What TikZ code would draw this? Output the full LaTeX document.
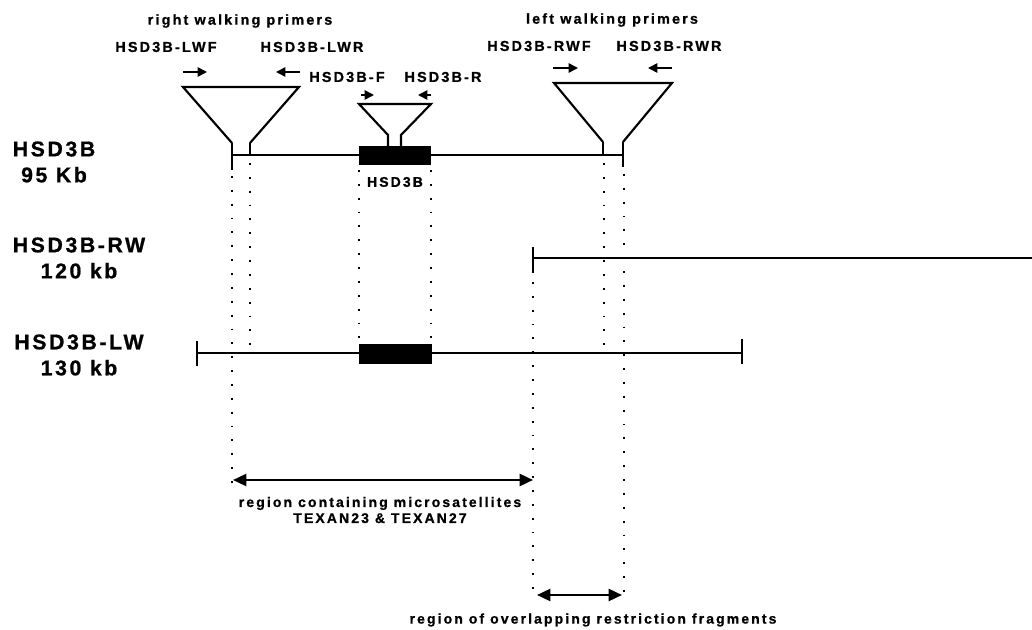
\documentclass[tikz,border=0pt]{standalone}
\usepackage{fontspec}
\setmainfont{Liberation Sans}
\newfontfamily\labfont{Liberation Sans}[LetterSpace=15,FakeBold=0.8]
\newfontfamily\bigfont{Liberation Sans}[LetterSpace=12,FakeBold=0.8]
\usetikzlibrary{arrows.meta}
\begin{document}
\begin{tikzpicture}[x=0.75pt,y=-0.75pt,
  lbl/.style={inner sep=0pt,font=\labfont\bfseries\fontsize{10.8pt}{12pt}\selectfont},
  big/.style={inner sep=0pt,align=center,font=\bigfont\bfseries\fontsize{16pt}{19.5pt}\selectfont},
  smalllbl/.style={inner sep=0pt,font=\labfont\bfseries\fontsize{10.5pt}{11pt}\selectfont},
  btm/.style={inner sep=0pt,align=center,font=\labfont\bfseries\fontsize{10.5pt}{12pt}\selectfont},
  dna/.style={line width=1.6pt},
  tick/.style={line width=2.2pt},
  funnel/.style={line width=1.6pt,line join=miter},
  dots/.style={line width=1.3pt,dash pattern=on 1.4pt off 9pt},
  primer/.style={line width=1.2pt,-{Triangle[length=7pt,width=7pt]}},
  span/.style={line width=1.8pt,{Triangle[length=10pt,width=9pt]}-{Triangle[length=10pt,width=9pt]}}]
\useasboundingbox (0,0) rectangle (1032,630);

% ---- labels on the left
\node[big] (l1) at (54,162) {HSD3B\\95 Kb};
\node[big] (l2) at (79,258) {HSD3B-RW\\120 kb};
\node[big] (l3) at (79,355) {HSD3B-LW\\130 kb};

% ---- primer labels
\node[lbl] (rwp) at (240,21) {right walking primers};
\node[lbl] (lwf) at (166,47) {HSD3B-LWF};
\node[lbl] (lwr) at (312,47) {HSD3B-LWR};
\node[lbl] (pf) at (347,77) {HSD3B-F};
\node[lbl] (pr) at (443,77) {HSD3B-R};
\node[lbl] (lwp) at (612,20) {left walking primers};
\node[lbl] (rwf) at (539,46) {HSD3B-RWF};
\node[lbl] (rwr) at (669,46) {HSD3B-RWR};
\node[smalllbl] (gene) at (395,182) {HSD3B};

% ---- coordinates
\coordinate (a0) at (232,155); \coordinate (a1) at (623,155);
\coordinate (b0) at (533,258); \coordinate (b1) at (1032,258);
\coordinate (c0) at (197,353); \coordinate (c1) at (742,353);

% ---- HSD3B 95 kb
\draw[dna] (a0) -- (a1);
\draw[tick] (232,143) -- (232,170);
\draw[tick] (250,143) -- (250,155);
\draw[tick] (603,142) -- (603,155);
\draw[tick] (623,142) -- (623,167);
\draw[funnel] (232,143) -- (183,87) -- (299,87) -- (250,143);
\draw[funnel] (603,142) -- (554,83) -- (672,83) -- (623,142);
\draw[funnel] (388,147) -- (388,135) -- (359,104) -- (431,104) -- (401,135) -- (401,147);
\fill (359,146) rectangle (431,165);

% ---- HSD3B-RW 120 kb
\draw[dna] (b0) -- (b1);
\draw[tick] (533,247) -- (533,273);

% ---- HSD3B-LW 130 kb
\draw[dna] (c0) -- (c1);
\draw[tick] (197,341) -- (197,366);
\draw[tick] (742,339) -- (742,364);
\fill (359,344) rectangle (432,364);

% ---- primer arrows
\coordinate (p1s) at (183,72); \coordinate (p1e) at (207,72);
\coordinate (p2s) at (300,72); \coordinate (p2e) at (276,72);
\coordinate (p3s) at (361,95); \coordinate (p3e) at (374,95);
\coordinate (p4s) at (431,95); \coordinate (p4e) at (418,95);
\coordinate (p5s) at (553,68); \coordinate (p5e) at (578,68);
\coordinate (p6s) at (672,68); \coordinate (p6e) at (648,68);
\draw[primer] (p1s) -- (p1e);
\draw[primer] (p2s) -- (p2e);
\draw[primer] (p3s) -- (p3e);
\draw[primer] (p4s) -- (p4e);
\draw[primer] (p5s) -- (p5e);
\draw[primer] (p6s) -- (p6e);

% ---- dotted guide lines
\draw[dots] (232,176) -- (232,484);
\draw[dots] (250,163) -- (250,350);
\draw[dots] (359,170) -- (359,342);
\draw[dots] (431,170) -- (431,342);
\draw[dots] (533,282) -- (533,598);
\draw[dots] (604,163) -- (604,350);
\draw[dots] (624,174) -- (624,598);

% ---- spans
\coordinate (s1a) at (233,480); \coordinate (s1b) at (533,480);
\coordinate (s2a) at (537,595); \coordinate (s2b) at (622,595);
\draw[span] (s1a) -- (s1b);
\draw[span] (s2a) -- (s2b);
\node[btm] (t1) at (380,510) {region containing microsatellites\\TEXAN23 \& TEXAN27};
\node[btm] (t2) at (593,620) {region of overlapping restriction fragments};
\end{tikzpicture}
\end{document}
